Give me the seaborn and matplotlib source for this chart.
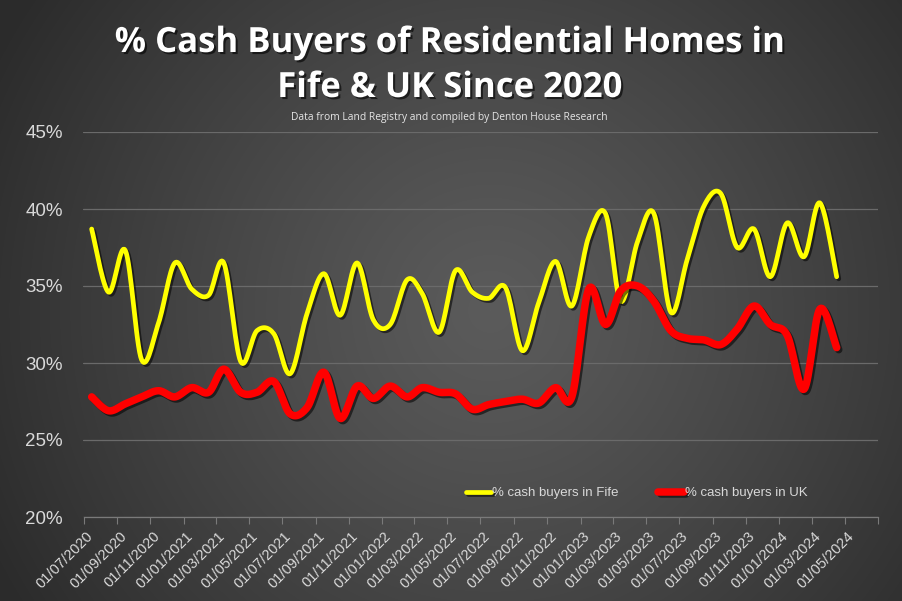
import numpy as np
import pandas as pd
import matplotlib
matplotlib.use("Agg")
import matplotlib.pyplot as plt
import matplotlib.dates as mdates
import matplotlib.patheffects as pe
from matplotlib.transforms import ScaledTranslation
import seaborn as sns

# ---------------- data ----------------
start_month = "2020-07-01"
fife = [38.7, 34.6, 37.3, 30.2, 32.6, 36.5, 34.8, 34.4, 36.5, 30.1,
        32.1, 31.9, 29.3, 33.2, 35.8, 33.1, 36.5, 32.8, 32.5, 35.4,
        34.5, 32.0, 36.0, 34.6, 34.2, 34.9, 30.8, 33.9, 36.6, 33.7,
        38.2, 39.7, 34.0, 37.9, 39.7, 33.3, 36.7, 40.2, 41.0, 37.5,
        38.7, 35.6, 39.1, 36.9, 40.4, 35.6]
uk = [27.8, 26.9, 27.35, 27.8, 28.2, 27.8, 28.4, 28.1, 29.6, 28.1,
      28.1, 28.8, 26.7, 27.1, 29.4, 26.4, 28.5, 27.7, 28.5, 27.8,
      28.4, 28.1, 28.0, 27.0, 27.3, 27.5, 27.65, 27.4, 28.4, 27.8,
      34.8, 32.5, 34.7, 35.0, 34.0, 32.1, 31.6, 31.5, 31.2, 32.2,
      33.7, 32.5, 31.8, 28.3, 33.5, 31.0]
series_names = ["% cash buyers in Fife", "% cash buyers in UK"]
series_colors = ["#FFFF00", "#FF0000"]
y_ticks = [20, 25, 30, 35, 40, 45]
tick_dates = pd.date_range("2020-07-01", "2024-07-01", freq="2MS")
tick_labels = [d.strftime("%d/%m/%Y") for d in tick_dates[:-1]] + [""]

title_lines = ["% Cash Buyers of Residential Homes in", "Fife & UK Since 2020"]
subtitle = "Data from Land Registry and compiled by Denton House Research"

# monthly points plotted at mid-month
months = pd.date_range(start_month, periods=len(fife), freq="MS") + pd.Timedelta(days=15)
xnum = mdates.date2num(months)


def smooth(x, y, n=16):
    """Excel-style smoothed line (Catmull-Rom Bezier) through the data points."""
    P = np.column_stack([x, y]).astype(float)
    E = np.vstack([P[0], P, P[-1]])
    t = np.linspace(0, 1, n, endpoint=False)[:, None]
    out = []
    for i in range(len(P) - 1):
        p0, p1, p2, p3 = E[i], E[i + 1], E[i + 2], E[i + 3]
        c1 = p1 + (p2 - p0) / 6.0
        c2 = p2 - (p3 - p1) / 6.0
        pts = (1 - t) ** 3 * p1 + 3 * (1 - t) ** 2 * t * c1 + 3 * (1 - t) * t ** 2 * c2 + t ** 3 * p2
        out.append(pts)
    out.append(P[-1:])
    S = np.vstack(out)
    return S[:, 0], S[:, 1]


sns.set_style("dark")
plt.rcParams["font.family"] = ["Liberation Sans", "DejaVu Sans"]

W, H = 903, 601
fig = plt.figure(figsize=(W / 100, H / 100), dpi=100)

# background radial gradient
bg = fig.add_axes([0, 0, 1, 1], zorder=-5)
yy, xx = np.mgrid[0:H, 0:W]
cx, cy = 490, 310
d = np.sqrt((xx - cx) ** 2 + (yy - cy) ** 2)
d = np.clip(d / 560.0, 0, 1)
c_in, c_out = 0x5b / 255, 0x2b / 255
val = c_in - (c_in - c_out) * d ** 1.2
img = np.dstack([val, val, val])
bg.imshow(img, aspect="auto", extent=[0, 1, 0, 1], origin="upper")
bg.set_axis_off()

ax = fig.add_axes([83.5 / W, 1 - 517 / H, (878 - 83.5) / W, (517 - 132) / H])
ax.set_facecolor("none")

lws = [3.4, 5.4]
for vals, name, col, lw in zip([fife, uk], series_names, series_colors, lws):
    sx, sy = smooth(xnum, vals)
    sns.lineplot(x=sx, y=sy, sort=False, estimator=None, color=col, linewidth=lw,
                 label=name, ax=ax, solid_capstyle="round",
                 path_effects=[pe.SimpleLineShadow(offset=(1.5, -1.5), alpha=0.55, shadow_color="black"),
                               pe.Normal()])

ax.set_xlim(mdates.date2num(tick_dates[0]), mdates.date2num(tick_dates[-1]))
ax.set_ylim(20, 45)
ax.set_yticks(y_ticks)
ax.set_yticklabels([f"{v}%" for v in y_ticks])
ax.set_xticks(mdates.date2num(tick_dates))
ax.set_xticklabels(tick_labels, rotation=45, ha="right", va="center", rotation_mode="anchor")
ax.set_xlabel("")
ax.set_ylabel("")

ax.grid(axis="y", color="#6a6a6a", linewidth=0.9)
ax.grid(axis="x", visible=False)
for s in ["top", "right", "left"]:
    ax.spines[s].set_visible(False)
ax.spines["bottom"].set_color("#7a7a7a")
ax.spines["bottom"].set_linewidth(0.9)
ax.tick_params(axis="x", colors="#7a7a7a", labelcolor="#d9d9d9", length=5, width=0.8,
               direction="out", labelsize=10.5, pad=7, bottom=True)
ax.tick_params(axis="y", length=0, labelcolor="#d9d9d9", labelsize=13.5, pad=15)

off = ScaledTranslation(7 / 100, 0, fig.dpi_scale_trans)
for lab in ax.get_xticklabels():
    lab.set_transform(lab.get_transform() + off)

leg = ax.legend(loc="center left", bbox_to_anchor=(466 / W, 1 - 493 / H),
                bbox_transform=fig.transFigure, ncol=2, frameon=False,
                fontsize=9.5, handlelength=1.9, handletextpad=0.1, columnspacing=3.0,
                borderpad=0, borderaxespad=0)
for t in leg.get_texts():
    t.set_color("#d9d9d9")

shadow = [pe.SimplePatchShadow(offset=(1.5, -1.5), shadow_rgbFace="black", alpha=0.6), pe.Normal()]
tfam = ["Open Sans", "Roboto", "DejaVu Sans"]
fig.text(450 / W, 1 - 52 / H, title_lines[0], ha="center", va="baseline", color="white",
         fontsize=25, fontweight="bold", family=tfam, path_effects=shadow)
fig.text(450 / W, 1 - 97 / H, title_lines[1], ha="center", va="baseline", color="white",
         fontsize=25, fontweight="bold", family=tfam, path_effects=shadow)
fig.text(449 / W, 1 - 120 / H, subtitle, ha="center", va="baseline", color="#e6e6e6",
         fontsize=7.4, family=tfam)

fig.savefig("out.png", dpi=100)
